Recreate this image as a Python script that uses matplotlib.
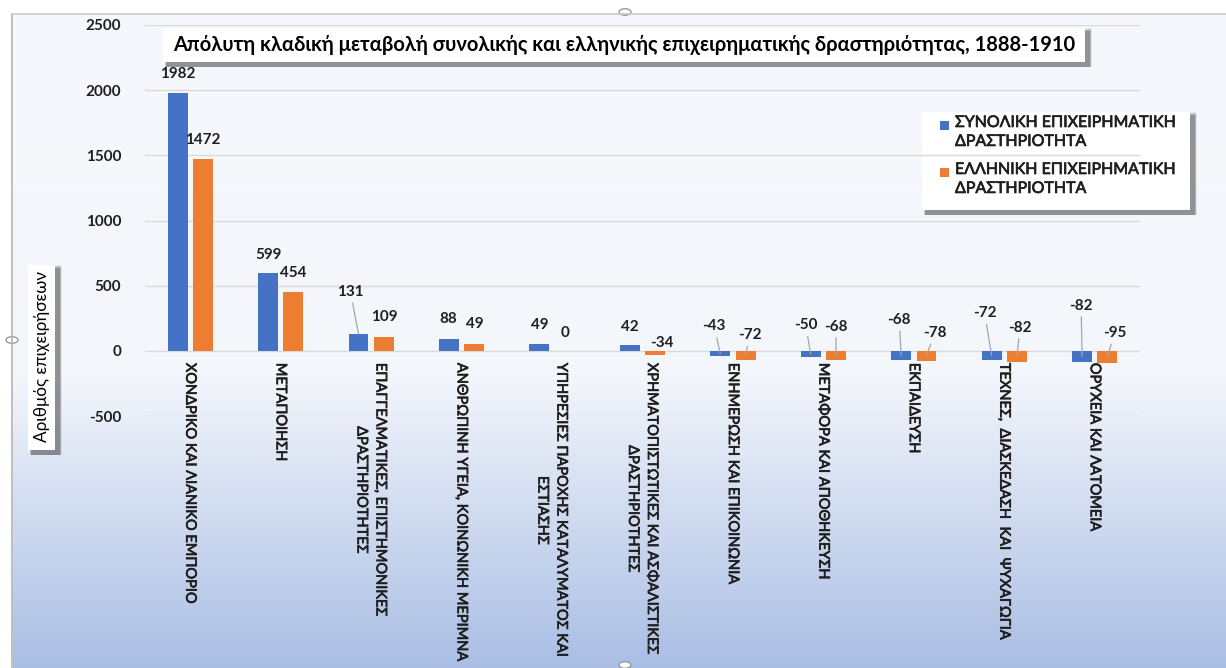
import numpy as np
import matplotlib.pyplot as plt
import matplotlib.patheffects as pe
from matplotlib.patches import Rectangle, Circle
from matplotlib.lines import Line2D

plt.rcParams['font.family'] = ['Lato', 'DejaVu Sans']

# data
categories = [
    "ΧΟΝΔΡΙΚΟ ΚΑΙ ΛΙΑΝΙΚΟ ΕΜΠΟΡΙΟ",
    "ΜΕΤΑΠΟΙΗΣΗ",
    "ΕΠΑΓΓΕΛΜΑΤΙΚΕΣ, ΕΠΙΣΤΗΜΟΝΙΚΕΣ\nΔΡΑΣΤΗΡΙΟΤΗΤΕΣ",
    "ΑΝΘΡΩΠΙΝΗ ΥΓΕΙΑ, ΚΟΙΝΩΝΙΚΗ ΜΕΡΙΜΝΑ",
    "ΥΠΗΡΕΣΙΕΣ ΠΑΡΟΧΗΣ ΚΑΤΑΛΥΜΑΤΟΣ ΚΑΙ\nΕΣΤΙΑΣΗΣ",
    "ΧΡΗΜΑΤΟΠΙΣΤΩΤΙΚΕΣ ΚΑΙ ΑΣΦΑΛΙΣΤΙΚΕΣ\nΔΡΑΣΤΗΡΙΟΤΗΤΕΣ",
    "ΕΝΗΜΕΡΩΣΗ ΚΑΙ ΕΠΙΚΟΙΝΩΝΙΑ",
    "ΜΕΤΑΦΟΡΑ ΚΑΙ ΑΠΟΘΗΚΕΥΣΗ",
    "ΕΚΠΑΙΔΕΥΣΗ",
    "ΤΕΧΝΕΣ,  ΔΙΑΣΚΕΔΑΣΗ  ΚΑΙ  ΨΥΧΑΓΩΓΙΑ",
    "ΟΡΥΧΕΙΑ ΚΑΙ ΛΑΤΟΜΕΙΑ",
]
total = [1982, 599, 131, 88, 49, 42, -43, -50, -68, -72, -82]
greek = [1472, 454, 109, 49, 0, -34, -72, -68, -78, -82, -95]
series_names = ["ΣΥΝΟΛΙΚΗ ΕΠΙΧΕΙΡΗΜΑΤΙΚΗ\nΔΡΑΣΤΗΡΙΟΤΗΤΑ",
                "ΕΛΛΗΝΙΚΗ ΕΠΙΧΕΙΡΗΜΑΤΙΚΗ\nΔΡΑΣΤΗΡΙΟΤΗΤΑ"]
yticks = [-500, 0, 500, 1000, 1500, 2000, 2500]

title = ("Απόλυτη κλαδική μεταβολή συνολικής και ελληνικής "
         "επιχειρηματικής δραστηριότητας, 1888-1910")
ylabel = "Αριθμός επιχειρήσεων"

# label placement (pixels, moved by hand in the original)
blue_dx = [0, 0, -8, -1, 0, 0, -6, -5, -2, -7, -1]
blue_up = [19, 18, 42, 20, 19, 18, 30, 32, 40, 47, 56]
blue_leader = [0, 0, 1, 0, 0, 0, 1, 1, 1, 1, 1]
orange_dx = [0, 0, 0, 0, 0, 7, 4, 0, 8, 3, 7]
orange_up = [19, 19, 20, 20, 18, 12, 25, 33, 28, 34, 30]
orange_leader = [0, 0, 0, 0, 0, 0, 1, 1, 1, 1, 1]

BLUE = '#4472C4'
ORANGE = '#ED7D31'
TXT = '#1f1f1f'
thick = [pe.withStroke(linewidth=0.5, foreground=TXT)]

W, H = 1226, 668
fig = plt.figure(figsize=(W / 100, H / 100), dpi=100)


def fx(x):
    return x / W


def fy(y):
    return 1 - y / H


# background gradient of the chart area
bg = fig.add_axes([fx(13), 0, 1 - fx(13), fy(15)])
bg.set_zorder(-10)
bg.set_axis_off()
n = 300
t = np.linspace(0, 1, n)
stops_t = [0, 0.55, 1.0]
stops_c = [(0.965, 0.972, 0.99), (0.955, 0.965, 0.985), (0.665, 0.745, 0.895)]
grad = np.stack([np.interp(t, stops_t, [c[k] for c in stops_c]) for k in range(3)], axis=1)
bg.imshow(grad[:, None, :], aspect='auto', extent=[0, 1, 0, 1])
bg.set_xlim(0, 1)
bg.set_ylim(0, 1)

# frame lines and handles
fig.add_artist(Line2D([fx(12), fx(12)], [fy(14), 0], color='#b4b4b4', lw=1.2))
fig.add_artist(Line2D([fx(12), 1], [fy(14), fy(14)], color='#c8c8c8', lw=1.2))

ax = fig.add_axes([fx(145), fy(416), fx(1140) - fx(145), fy(25) - fy(416)])
ax.set_facecolor('none')
for s in ax.spines.values():
    s.set_visible(False)
ax.set_xlim(-0.5, len(categories) - 0.5)
ax.set_ylim(-500, 2500)
ax.set_yticks(yticks)
ax.set_yticklabels([str(v) for v in yticks], fontsize=11, fontweight='bold', color=TXT)
ax.set_xticks([])
ax.tick_params(axis='y', length=0, pad=17)
ax.yaxis.grid(True, color='#d9d9d9', lw=1)
ax.set_axisbelow(True)

x = np.arange(len(categories))
bw = 0.22
off = 0.14
b1 = ax.bar(x - off, total, bw, color=BLUE, label=series_names[0], zorder=2)
b2 = ax.bar(x + off, greek, bw, color=ORANGE, label=series_names[1], zorder=2)

ppu = ax.transData.transform((0, 1))[1] - ax.transData.transform((0, 0))[1]


def put_labels(xs, vals, dxs, ups, leaders):
    for xi, v, dx, up, ld in zip(xs, vals, dxs, ups, leaders):
        target = v if v >= 0 else v / 2
        oy = up + (v - target) * ppu
        props = None
        if ld:
            props = dict(arrowstyle='-', color='#a6a6a6', lw=0.9,
                         shrinkA=1, shrinkB=0)
        ax.annotate(str(v), xy=(xi, target), xytext=(dx, oy),
                    textcoords='offset pixels', ha='center', va='center',
                    fontsize=11, fontweight='bold', color=TXT,
                    arrowprops=props, zorder=4)


put_labels(x - off, total, blue_dx, blue_up, blue_leader)
put_labels(x + off, greek, orange_dx, orange_up, orange_leader)

for i, c in enumerate(categories):
    ax.annotate(c, xy=(i, 0), xytext=(0, -12), textcoords='offset pixels',
                rotation=270, ha='center', va='top', multialignment='center',
                fontsize=10.5, color=TXT, linespacing=1.45,
                annotation_clip=False, path_effects=thick)


def shadow_box(x0, y0, x1, y1):
    for k, a in zip([5, 4, 3, 2], [0.08, 0.12, 0.18, 0.25]):
        fig.add_artist(Rectangle((fx(x0 + 4 - k / 2), fy(y1 + 5)),
                                 fx(x1 - x0 + k), (y1 - y0 + k) / H,
                                 facecolor='#303030', edgecolor='none',
                                 alpha=a, zorder=-5))
    fig.add_artist(Rectangle((fx(x0), fy(y1)), fx(x1 - x0), (y1 - y0) / H,
                             facecolor='white', edgecolor='none', zorder=-4))


# title
shadow_box(163, 28, 1085, 62)
fig.text(fx(624), fy(45), title, ha='center', va='center',
         fontsize=14.5, fontweight='bold', color='black')

# y label
shadow_box(28, 265, 55, 450)
fig.text(fx(41.5), fy(357), ylabel, ha='center', va='center', rotation=90,
         fontsize=12.3, color='black')

# legend, drawn by hand so the swatch sits on the first line of each entry
shadow_box(922, 112, 1190, 210)
for name, col, ytop in [(series_names[0], BLUE, 125), (series_names[1], ORANGE, 172)]:
    fig.add_artist(Rectangle((fx(940), fy(ytop + 4.5)), fx(9), 9 / H,
                             facecolor=col, edgecolor='none'))
    fig.text(fx(955), fy(ytop - 9), name, ha='left', va='top',
             fontsize=11.5, color=TXT, linespacing=1.45, path_effects=thick)

for cx, cy in [(12, 340), (625, 12), (625, 665)]:
    fig.add_artist(Circle((fx(cx), fy(cy)), 6 / W, facecolor='white',
                          edgecolor='#9a9a9a', lw=1.0,
                          transform=fig.transFigure))

fig.savefig('out.png', dpi=100)
